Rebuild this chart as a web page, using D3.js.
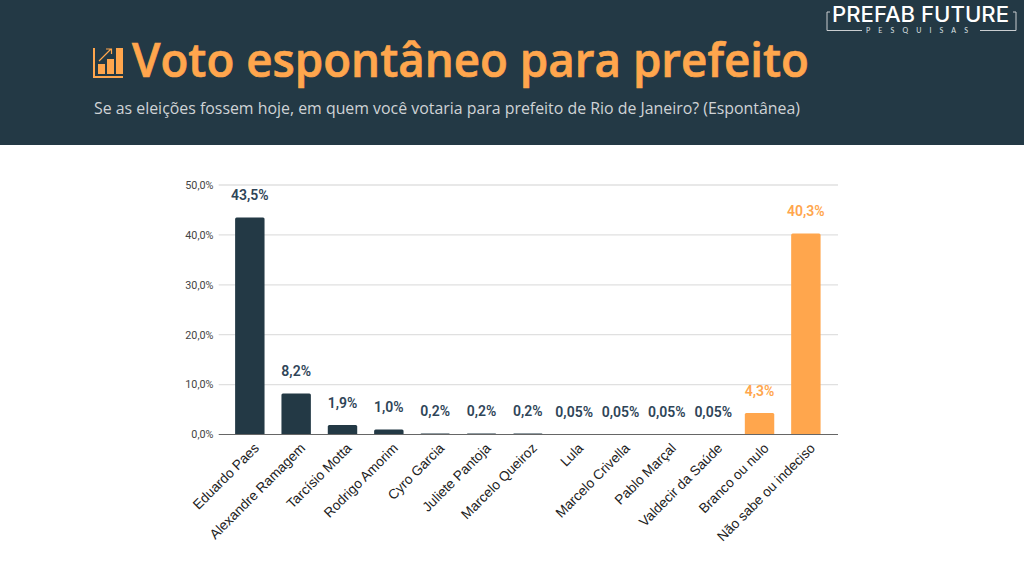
<!DOCTYPE html>
<html><head><meta charset="utf-8">
<script src="https://cdn.jsdelivr.net/npm/d3@7/dist/d3.min.js"></script>
<style>html,body{margin:0;padding:0;background:#fff}svg{display:block}</style>
</head><body><svg id="c" width="1024" height="576"></svg>
<script>
const categories = ["Eduardo Paes","Alexandre Ramagem","Tarcísio Motta","Rodrigo Amorim","Cyro Garcia","Juliete Pantoja","Marcelo Queiroz","Lula","Marcelo Crivella","Pablo Marçal","Valdecir da Saúde","Branco ou nulo","Não sabe ou indeciso"];
const values = [43.5,8.2,1.9,1.0,0.2,0.2,0.2,0.05,0.05,0.05,0.05,4.3,40.3];
const valueLabels = ["43,5%","8,2%","1,9%","1,0%","0,2%","0,2%","0,2%","0,05%","0,05%","0,05%","0,05%","4,3%","40,3%"];
const highlighted = ["Branco ou nulo","Não sabe ou indeciso"];
const yTicks = [0,10,20,30,40,50];
const titleText = "Voto espontâneo para prefeito";
const subtitleText = "Se as eleições fossem hoje, em quem você votaria para prefeito de Rio de Janeiro? (Espontânea)";
const iconBars = [1,2,3];

const dark="#233945", orange="#FFA64D";
const svg=d3.select("#c");
svg.append("rect").attr("width",1024).attr("height",145).attr("fill",dark);

// title
svg.append("text").attr("x",132).attr("y",76.5).attr("font-family","'Open Sans'").attr("font-weight",600)
  .attr("font-size",47.5).attr("fill",orange).attr("stroke",orange).attr("stroke-width",0.7)
  .attr("textLength",677).attr("lengthAdjust","spacingAndGlyphs").text(titleText);
svg.append("text").attr("x",94).attr("y",114).attr("font-family","'Open Sans'").attr("font-size",16.2)
  .attr("fill","#cfd3d6").attr("textLength",706).attr("lengthAdjust","spacingAndGlyphs").text(subtitleText);

// icon
const ic=svg.append("g").attr("transform","translate(93,47)");
ic.append("path").attr("d","M1,1V30H30").attr("fill","none").attr("stroke",orange).attr("stroke-width",2);
const ix=d3.scaleBand().domain(iconBars).range([5,30]).paddingInner(0.22);
ic.selectAll("rect").data(iconBars).join("rect").attr("x",d=>ix(d)).attr("width",ix.bandwidth())
  .attr("y",d=>[17,12,1][d-1]).attr("height",d=>[10,15,26][d-1]).attr("fill",orange);
ic.append("path").attr("d","M6,14L18,2M13,2H18.5V7").attr("fill","none").attr("stroke",orange).attr("stroke-width",1.2);

// logo
const lg=svg.append("g");
lg.append("text").attr("x",832).attr("y",21.5).attr("font-family","Inter").attr("font-weight",500).attr("font-size",21)
  .attr("fill","#fff").attr("textLength",177).attr("lengthAdjust","spacingAndGlyphs").text("PREFAB FUTURE");
lg.append("text").attr("x",866).attr("y",32.5).attr("font-family","Lato").attr("font-size",7)
  .attr("fill","#dfe3e5").attr("textLength",102).text("PESQUISAS");
lg.append("path").attr("d","M830,12H827V30.5H862M980,30.5H1016V12H1013").attr("fill","none").attr("stroke","#c9cdd0").attr("stroke-width",1);

// chart
const x=d3.scaleBand().domain(categories).range([218.2,837.5]).padding(0.365);
const y=d3.scaleLinear().domain([0,50]).range([434.5,185]);

const grid=svg.append("g");
grid.selectAll("line").data(yTicks.filter(d=>d>0)).join("line")
  .attr("x1",218.7).attr("x2",838).attr("y1",d=>y(d)).attr("y2",d=>y(d)).attr("stroke","#e0e0e0").attr("stroke-width",1.3);

svg.append("g").selectAll("text").data(yTicks).join("text")
  .attr("x",213.5).attr("y",d=>y(d)+3.8).attr("text-anchor","end").attr("font-family","Roboto").attr("font-size",10.8)
  .attr("fill","#444").text(d=>d3.format(".1f")(d).replace(".",",")+"%");

const rows=categories.map((c,i)=>({c,v:values[i],l:valueLabels[i]}));
const col=d=>highlighted.includes(d.c)?orange:dark;
svg.append("g").selectAll("path").data(rows).join("path")
  .attr("d",d=>{const p=d3.path(),x0=x(d.c),w=x.bandwidth(),t=y(d.v),b=y(0),r=Math.min(1.5,b-t);
    p.moveTo(x0,b);p.lineTo(x0,t+r);p.quadraticCurveTo(x0,t,x0+r,t);p.lineTo(x0+w-r,t);p.quadraticCurveTo(x0+w,t,x0+w,t+r);p.lineTo(x0+w,b);p.closePath();return p.toString();})
  .attr("fill",col);

svg.append("line").attr("x1",218.7).attr("x2",838).attr("y1",y(0)).attr("y2",y(0)).attr("stroke","#666").attr("stroke-width",1.2);

svg.append("g").selectAll("text").data(rows).join("text")
  .attr("x",d=>x(d.c)+x.bandwidth()/2).attr("y",d=>y(d.v)-17.5).attr("text-anchor","middle")
  .attr("font-family","Roboto").attr("font-weight",600).attr("font-size",14)
  .attr("fill",d=>highlighted.includes(d.c)?orange:"#2f4558").text(d=>d.l);

svg.append("g").selectAll("text").data(categories).join("text")
  .attr("transform",d=>`translate(${x(d)+x.bandwidth()/2+10},449) rotate(-45)`).attr("text-anchor","end")
  .attr("font-family","'Liberation Sans'").attr("font-size",13.7).attr("fill","#222").text(d=>d);
</script></body></html>
